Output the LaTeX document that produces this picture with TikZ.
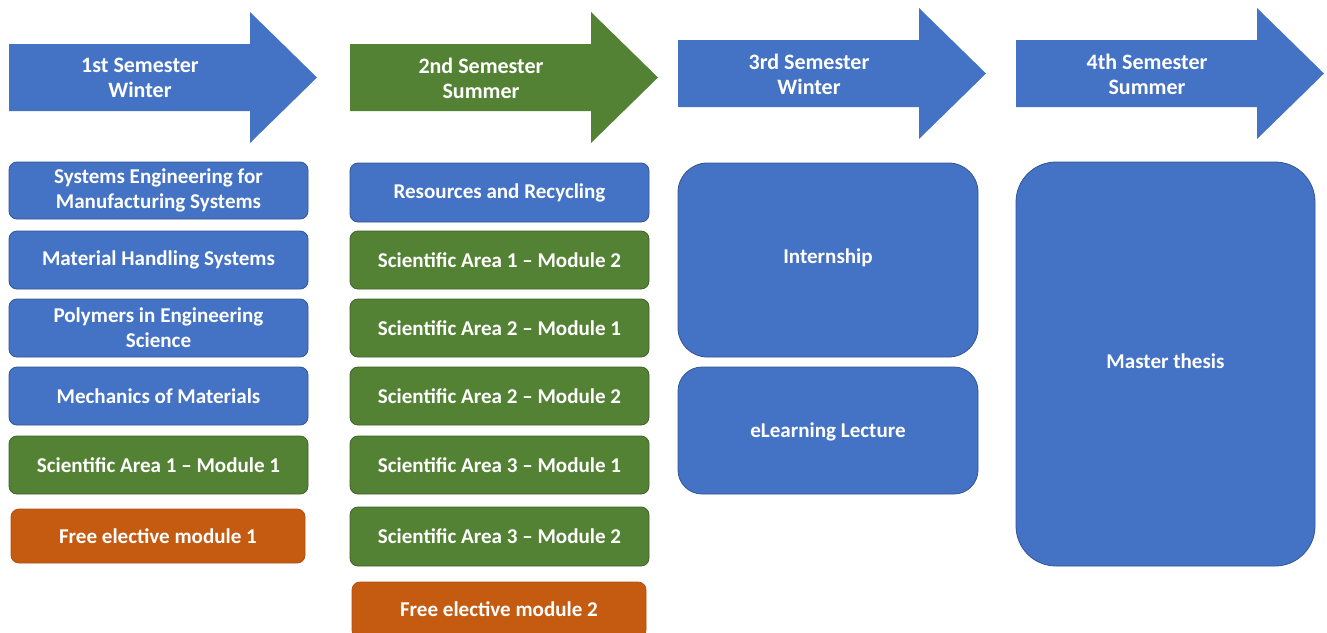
\documentclass[tikz,border=0pt]{standalone}
\usepackage{fontspec}
\setmainfont{Carlito}
\usepackage{tikz}

\definecolor{semblue}{HTML}{4472C4}
\definecolor{semgreen}{HTML}{548235}
\definecolor{semorange}{HTML}{C55A11}

% semester arrow: name, left x, head top y, colour, text
\newcommand{\semarrow}[5]{
  \fill[#4] (#2,#3+32) -- ++(241,0) -- ++(0,-32) -- ++(67,65.5)
    -- ++(-67,65.5) -- ++(0,-32) -- ++(-241,0) -- cycle;
  \node[semtext, font=\bfseries\fontsize{16.5}{18.75}\selectfont] (#1) at (#2+131,#3+66) {#5};
}

\begin{document}
\begin{tikzpicture}[
  x=0.75pt, y=-0.75pt,
  every node/.style={font=\bfseries\fontsize{15.8}{18.75}\selectfont, text=white, align=center},
  semtext/.style={inner sep=0pt},
  modbox/.style={rounded corners=6pt, minimum width=224.25pt, minimum height=43.5pt, inner sep=0pt, line width=0.6pt},
  bluebox/.style={modbox, fill=semblue, draw=semblue!75!black},
  greenbox/.style={modbox, fill=semgreen, draw=semgreen!75!black},
  orangebox/.style={modbox, fill=semorange, draw=semorange!90!black, minimum width=220.5pt, minimum height=40.5pt}
]
  \clip (0,0) rectangle (1327,632);
  \fill[white] (0,0) rectangle (1327,632);

  % arrows on top
  \semarrow{sem1}{9}{12}{semblue}{1st Semester\\Winter}
  \semarrow{sem2}{350}{12}{semgreen}{2nd Semester\\Summer}
  \semarrow{sem3}{678}{8}{semblue}{3rd Semester\\Winter}
  \semarrow{sem4}{1016}{8}{semblue}{4th Semester\\Summer}

  % 1st semester
  \node[bluebox, minimum height=42.75pt] (sysEng) at (158.5,190.5) {Systems Engineering for\\Manufacturing Systems};
  \node[bluebox] (matHand) at (158.5,260) {Material Handling Systems};
  \node[bluebox] (polymers) at (158.5,328) {Polymers in Engineering\\Science};
  \node[bluebox] (mechMat) at (158.5,396) {Mechanics of Materials};
  \node[greenbox] (sciOneA) at (158.5,465) {Scientific Area 1 -- Module 1};
  \node[orangebox] (freeOne) at (158,536) {Free elective module 1};

  % 2nd semester
  \node[bluebox, minimum height=44.25pt] (resources) at (499.5,192.5) {Resources and Recycling};
  \node[greenbox] (sciOneB) at (499.5,260) {Scientific Area 1 -- Module 2};
  \node[greenbox] (sciTwoA) at (499.5,328) {Scientific Area 2 -- Module 1};
  \node[greenbox] (sciTwoB) at (499.5,396) {Scientific Area 2 -- Module 2};
  \node[greenbox] (sciThreeA) at (499.5,465) {Scientific Area 3 -- Module 1};
  \node[greenbox, minimum height=44.25pt] (sciThreeB) at (499.5,536.5) {Scientific Area 3 -- Module 2};
  \node[orangebox, minimum height=42pt] (freeTwo) at (499,610) {};
  \node[semtext] (freeTwoText) at (499,609) {Free elective module 2};

  % 3rd semester
  \node[bluebox, rounded corners=22pt, minimum width=225pt, minimum height=145.5pt] (intern) at (828,260) {};
  \node[semtext] (internText) at (828,258) {Internship};
  \node[bluebox, rounded corners=18pt, minimum width=225pt, minimum height=95.25pt] (eLearn) at (828,430.5) {};
  \node[semtext] (eLearnText) at (828,432) {eLearning Lecture};

  % 4th semester
  \node[bluebox, rounded corners=30pt, minimum height=303pt] (thesis) at (1165.5,364) {};
  \node[semtext] (thesisText) at (1165.5,361) {Master thesis};
\end{tikzpicture}
\end{document}
